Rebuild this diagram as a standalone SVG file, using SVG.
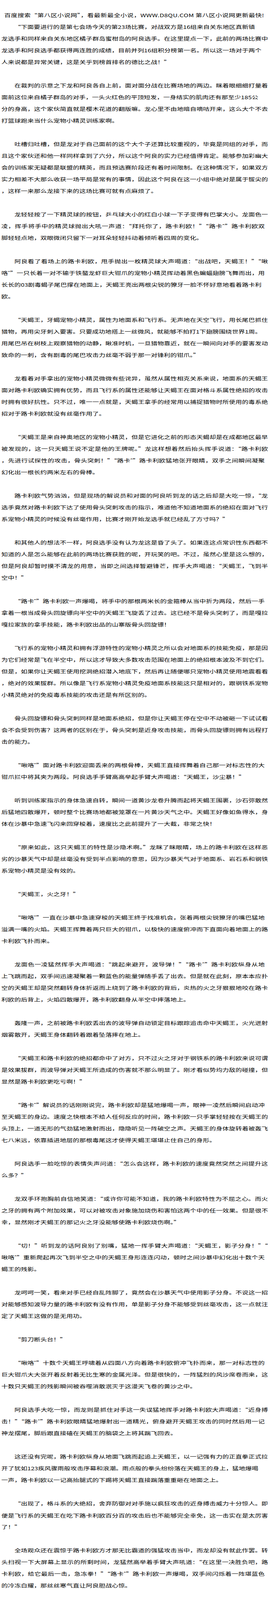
<svg xmlns="http://www.w3.org/2000/svg" width="700" height="4430" viewBox="0 0 700 4430">
<style>
text{font-family:"Noto Sans CJK SC","Noto Sans CJK TC",sans-serif;font-size:12px;fill:#000}
</style>
<rect width="700" height="4430" fill="#fff"/>
<g transform="scale(1.3889 1)">
<g id="header"><text x="7.9" y="44.5" textLength="479.5">百度搜索“第八区小说网”，看最新最全小说，WWW.D8QU.COM  第八区小说网更新最快!</text></g>
<g id="body">
<text x="26.57" y="74.5" textLength="444.1">“下面要进行的是第七会场今天的第23场比赛，对战双方是16组来自关东地区真新镇</text>
<text x="2.59" y="104.5" textLength="492.1">龙选手和同样来自关东地区橘子群岛蜜柑岛的阿良选手。在这里提点一下，此前的两场比赛中</text>
<text x="2.59" y="134.5" textLength="480.1">龙选手和阿良选手都获得两连胜的成绩，目前并列16组积分榜第一名。所以这一场对于两个</text>
<text x="2.59" y="164.5">人来说都是异常关键，这是关乎到榜首排名的德比之战！”</text>
<text x="26.57" y="224.5" textLength="468.1">在裁判的示意之下龙和阿良各自上前，面对面分战在比赛场地的两边。眯着眼细细打量着</text>
<text x="2.59" y="254.5" textLength="474.1">面前这位来自橘子群岛的对手，一头火红色的平顶短发，一身结实的肌肉还有那至少185公</text>
<text x="2.59" y="284.5" textLength="492.1">分的身高，这个家伙简直就是樱木花道的翻版嘛。龙心里不由地暗自嘀咕开来，这么大个不去</text>
<text x="2.59" y="314.5">打篮球跑来当什么宠物小精灵训练家啊。</text>
<text x="26.57" y="374.5" textLength="468.1">吐槽归吐槽，但是龙对于自己面前的这个大个子还算比较重视的，毕竟是同组的对手，而</text>
<text x="2.59" y="404.5" textLength="492.1">且这个家伙还和他一样同样拿到了六分，所以这个阿良的实力已经值得肯定。能够参加彩幽大</text>
<text x="2.59" y="434.5" textLength="492.1">会的训练家无疑都是联盟的精英，而且预选赛阶段还有着时间限制。在这种情况下，如果双方</text>
<text x="2.59" y="464.5" textLength="492.1">实力相差不大那么收获一场平局是常有的事情，因此这个阿良在这一小组中绝对是属于拔尖的</text>
<text x="2.59" y="494.5">，这样一来那么龙接下来的这场比赛可就有点麻烦了。</text>
<text x="26.57" y="554.5" textLength="468.1">龙轻轻按了一下精灵球的按钮，乒乓球大小的红白小球一下子变得有巴掌大小。龙面色一</text>
<text x="2.59" y="584.5" textLength="486.1">凌，挥手将手中的精灵球抛出大吼一声道：“拜托你了，路卡利欧！”“路卡ˆ”路卡利欧双</text>
<text x="2.59" y="614.5">脚轻轻点地，双眼微闭只留下一对耳朵轻轻抖动着倾听着四周的变化。</text>
<text x="26.57" y="674.5" textLength="468.1">阿良看了看场上的路卡利欧，甩手抛出一枚精灵球大声喝道：“出战吧，天蝎王！”“啾</text>
<text x="2.59" y="704.5" textLength="486.1">咯ˆ”一只长着一对不输于铁螯龙虾巨大钳爪的宠物小精灵挥动着黑色蝙蝠翅膀飞舞而出，用</text>
<text x="2.59" y="734.5" textLength="480.1">长长的03剧毒蝎子尾巴撑在地面上，天蝎王亮出两根尖锐的獠牙一脸不怀好意地看着路卡利</text>
<text x="2.59" y="764.5">欧。</text>
<text x="26.57" y="824.5" textLength="468.1">“天蝎王，牙蝎宠物小精灵，属性为地面系和飞行系。无声地在天空飞行，用长尾巴抓住</text>
<text x="2.59" y="854.5" textLength="480.1">猎物，再用尖牙刺入要害。只要成功地搭上一丝微风，就能够不拍打1下翅膀围绕世界1周。</text>
<text x="2.59" y="884.5" textLength="492.1">用尾巴吊在树枝上观察猎物的动静，瞅准时机，一旦猎物靠近，就在一瞬间向对手的要害发动</text>
<text x="2.59" y="914.5">致命的一刺，含有剧毒的尾巴攻击力丝毫不弱于那一对锋利的钳爪。”</text>
<text x="26.57" y="974.5" textLength="468.1">龙看着对手拿出的宠物小精灵微微有些诧异，虽然从属性相克关系来说，地面系的天蝎王</text>
<text x="2.59" y="1004.5" textLength="492.1">面对路卡利欧确实拥有优势，而且飞行系的属性还能够让天蝎王在面对格斗系属性绝招的攻击</text>
<text x="2.59" y="1034.5" textLength="492.1">时拥有很好抗性。只不过，唯一一点就是，天蝎王拿手的经常用以捕捉猎物时所使用的毒系绝</text>
<text x="2.59" y="1064.5">招对于路卡利欧就没有丝毫作用了。</text>
<text x="26.57" y="1124.5" textLength="468.1">“天蝎王是来自神奥地区的宠物小精灵，但是它进化之前的形态天蝎却是在成都地区最早</text>
<text x="2.59" y="1154.5" textLength="492.1">被发现的，这一只天蝎王说不定是他的王牌呢。”龙这样想着然后抬头挥手说道：“路卡利欧</text>
<text x="2.59" y="1184.5" textLength="486.1">，先进行试探性的攻击，骨头突刺！”“路卡ˆ”路卡利欧猛地张开眼睛，双手之间瞬间凝聚</text>
<text x="2.59" y="1214.5">幻化出一根长约两米左右的骨棒。</text>
<text x="26.57" y="1274.5" textLength="468.1">路卡利欧气势汹汹，但是现场的解说员和对面的阿良听到龙的话之后却是大吃一惊，“龙</text>
<text x="2.59" y="1304.5" textLength="492.1">选手竟然对路卡利欧下达了使用骨头突刺攻击的指示，难道他不知道地面系的绝招在面对飞行</text>
<text x="2.59" y="1334.5">系宠物小精灵的时候没有丝毫作用，比赛才刚开始龙选手就已经乱了方寸吗？”</text>
<text x="26.57" y="1394.5" textLength="468.1">和其他人的想法不一样，阿良选手没有认为龙这是昏了头了。如果连这点常识性东西都不</text>
<text x="2.59" y="1424.5" textLength="492.1">知道的人是怎么能够在此前的两场比赛获胜的呢，开玩笑的吧。不过，虽然心里是这么想的，</text>
<text x="2.59" y="1454.5" textLength="492.1">但是阿良却暂时摸不清龙的用意，当即之间选择暂避锋芒，挥手大声喝道：“天蝎王，飞到半</text>
<text x="2.59" y="1484.5">空中！”</text>
<text x="26.57" y="1544.5" textLength="462.1">“路卡ˆ”路卡利欧一声爆喝，将手中的那根两米长的金箍棒从当中折为两段，然后一手</text>
<text x="2.59" y="1574.5" textLength="492.1">拿着一根当成骨头回旋镖向半空中的天蝎王飞旋丢了过去。这已经不是骨头突刺了，而是嘎拉</text>
<text x="2.59" y="1604.5">嘎拉家族的拿手技能，路卡利欧出品的山寨版骨头回旋镖！</text>
<text x="26.57" y="1664.5" textLength="468.1">飞行系的宠物小精灵和拥有浮游特性的宠物小精灵之所以会对地面系的技能免疫，那是因</text>
<text x="2.59" y="1694.5" textLength="492.1">为它们经常是飞在半空中，所以这才导致大多数攻击范围在地面上的绝招根本波及不到它们。</text>
<text x="2.59" y="1724.5" textLength="492.1">但是，如果你让天蝎王使用挖洞绝招潜入地底下，然后再让随便哪只宠物小精灵使用地震看看</text>
<text x="2.59" y="1754.5" textLength="492.1">，绝对的效果拔群。所以像是飞行系宠物小精灵免疫地面系技能这只是相对的，跟钢铁系宠物</text>
<text x="2.59" y="1784.5">小精灵绝对的免疫毒系技能的攻击还是有所区别的。</text>
<text x="26.57" y="1844.5" textLength="468.1">骨头回旋镖和骨头突刺同样是地面系绝招，但是你让天蝎王停在空中不动被砸一下试试看</text>
<text x="2.59" y="1874.5" textLength="492.1">会不会受到伤害？这两者的区别在于，骨头突刺是近身攻击技能，而骨头回旋镖则拥有远程打</text>
<text x="2.59" y="1904.5">击的能力。</text>
<text x="26.57" y="1964.5" textLength="462.1">“啾咯ˆ”面对路卡利欧迎面丢来的两根骨棒，天蝎王直接挥舞着自己那一对标志性的大</text>
<text x="2.59" y="1994.5">钳爪拦中将其夹为两段。阿良选手手臂高高举起手臂大声喝道：“天蝎王，沙尘暴！”</text>
<text x="26.57" y="2054.5" textLength="468.1">听到训练家指示的身体急速自转，瞬间一道黄沙龙卷升腾而起将天蝎王围裹，沙石弥散然</text>
<text x="2.59" y="2084.5" textLength="492.1">后猛地四散爆开，顿时整个比赛场地都被笼罩在一片黄沙天气之中。天蝎王好像如鱼得水，身</text>
<text x="2.59" y="2114.5">体在沙暴中急速飞闪来回穿梭着，速度比之此前提升了一大截，非常之快！</text>
<text x="26.57" y="2174.5" textLength="468.1">“原来如此，这只天蝎王的特性是沙隐术啊。”龙眯了眯眼睛，场上的路卡利欧在这样恶</text>
<text x="2.59" y="2204.5" textLength="492.1">劣的沙暴天气中却是丝毫没有受到半点影响的意思，因为沙暴天气对于地面系、岩石系和钢铁</text>
<text x="2.59" y="2234.5">系宠物小精灵是没有效的。</text>
<text x="26.57" y="2294.5">“天蝎王，火之牙！”</text>
<text x="26.57" y="2354.5" textLength="462.1">“啾咯ˆ”一直在沙暴中急速穿梭的天蝎王终于找准机会，张着两根尖锐獠牙的嘴巴猛地</text>
<text x="2.59" y="2384.5" textLength="492.1">溢满一嘴的火焰。天蝎王挥舞着两只巨大的钳爪，以极快的速度俯冲而下直面向着地面上的路</text>
<text x="2.59" y="2414.5">卡利欧飞扑而来。</text>
<text x="26.57" y="2474.5" textLength="462.1">龙面色一凌猛然挥手大声喝道：“跳起来避开，波导弹！”“路卡ˆ”路卡利欧纵身从地</text>
<text x="2.59" y="2504.5" textLength="492.1">上飞跳而起，双手间迅速凝聚着一颗蓝色的能量弹随手丢了出去。但是就在此刻，原本本应扑</text>
<text x="2.59" y="2534.5" textLength="492.1">空的天蝎王却是突然翻转身体折返而上绕到了路卡利欧的背后，炎热的火之牙狠狠地咬在路卡</text>
<text x="2.59" y="2564.5">利欧的后背上，火焰四散爆开，路卡利欧翻身从半空中摔落地上。</text>
<text x="26.57" y="2624.5" textLength="468.1">轰隆一声，之前被路卡利欧丢出去的波导弹自动锁定目标跟踪追击命中天蝎王，火光迸射</text>
<text x="2.59" y="2654.5">烟雾散开，天蝎王身体翻转着跟着坠落摔在地上。</text>
<text x="26.57" y="2714.5" textLength="468.1">“天蝎王和路卡利欧的绝招都命中了对方，只不过火之牙对于钢铁系的路卡利欧来说可谓</text>
<text x="2.59" y="2744.5" textLength="492.1">是效果拔群，而波导弹对天蝎王所造成的伤害就不那么明显了。刚才看似势均力敌的碰撞，但</text>
<text x="2.59" y="2774.5">显然是路卡利欧更吃亏啊！”</text>
<text x="26.57" y="2834.5" textLength="462.1">“路卡ˆ”解说员的话刚刚说完，路卡利欧却是猛地爆喝一声，眼神一凌然后瞬间启动冲</text>
<text x="2.59" y="2864.5" textLength="492.1">至天蝎王的身边。速度之快根本不给人任何反应的时间，路卡利欧一只手掌轻轻按在天蝎王的</text>
<text x="2.59" y="2894.5" textLength="492.1">头顶上，一道无形的气劲猛地激射而出，隐隐听见一阵破空之声。天蝎王的身体旋转着被轰飞</text>
<text x="2.59" y="2924.5">七八米远，依靠插进地层的那根毒尾这才使得天蝎王堪堪止住自己的身形。</text>
<text x="26.57" y="2984.5" textLength="468.1">阿良选手一脸吃惊的表情失声问道：“怎么会这样，路卡利欧的速度竟然突然之间提升这</text>
<text x="2.59" y="3014.5">么多？”</text>
<text x="26.57" y="3074.5" textLength="468.1">龙双手环抱胸前自信地笑道：“或许你可能不知道，我的路卡利欧特性为不屈之心。而火</text>
<text x="2.59" y="3104.5" textLength="492.1">之牙的拥有两个附加效果，可以对被攻击对象施加烧伤和害怕这两个中的任一效果。但是很不</text>
<text x="2.59" y="3134.5">幸，显然刚才天蝎王的那记火之牙没能够使路卡利欧烧伤啊。”</text>
<text x="26.57" y="3194.5" textLength="468.1">“切！”听到龙的话阿良别了别嘴，猛地一挥手臂大声喝道：“天蝎王，影子分身！”“</text>
<text x="2.59" y="3224.5" textLength="486.1">啾咯ˆ”重新爬起再次飞到半空之中的天蝎王身形连连闪动，顿时之间沙暴中幻化出十数个天</text>
<text x="2.59" y="3254.5">蝎王的残影。</text>
<text x="26.57" y="3314.5" textLength="468.1">龙呵呵一笑，看来对手已经自乱阵脚了，竟然会在沙暴天气中使用影子分身。不说这一招</text>
<text x="2.59" y="3344.5" textLength="492.1">对能够感知波导力量的路卡利欧有没有作用，单是影子分身不能够受到丝毫攻击，这一点就注</text>
<text x="2.59" y="3374.5">定了天蝎王这做的是无用功。</text>
<text x="26.57" y="3434.5">“剪刀断头台！”</text>
<text x="26.57" y="3494.5" textLength="462.1">“啾咯ˆ”十数个天蝎王呼啸着从四面八方向着路卡利欧俯冲飞扑而来，那一对标志性的</text>
<text x="2.59" y="3524.5" textLength="492.1">巨大钳爪大大张开着反射着无比生寒的金属光泽。但是很快的，一阵猛烈的风沙席卷而来，这</text>
<text x="2.59" y="3554.5">十数只天蝎王的残影瞬间被吞噬消散泯灭于这漫天飞卷的黄沙之中。</text>
<text x="26.57" y="3614.5" textLength="468.1">阿良选手大吃一惊，而龙则是抓住对手这一失误猛地挥手对路卡利欧大声喝道：“近身搏</text>
<text x="2.59" y="3644.5" textLength="486.1">击！”“路卡ˆ”路卡利欧眼睛猛地爆射出一道精光，俯身避开天蝎王攻击的同时然后用一记</text>
<text x="2.59" y="3674.5">神龙摆尾，脚后跟直接磕在天蝎王的脑袋之上将其踹飞回去。</text>
<text x="26.57" y="3734.5" textLength="468.1">这还没有完呢，路卡利欧纵身从地面飞跳而起追上天蝎王，以一记强有力的正直拳正式拉</text>
<text x="2.59" y="3764.5" textLength="474.1">开了犹如123疾风骤雨般攻击序幕和浪潮。雨点般的拳头纷纷落在天蝎王的身上，猛地爆喝</text>
<text x="2.59" y="3794.5">一声，路卡利欧以一记高抬腿式的下踢将天蝎王直接踹落重重砸在地面之上。</text>
<text x="26.57" y="3854.5" textLength="468.1">“出现了，格斗系的大绝招，舍弃防御对对手施以疯狂攻击的近身搏击威力十分惊人。即</text>
<text x="2.59" y="3884.5" textLength="492.1">便是飞行系的天蝎王在吃下路卡利欧百分百的攻击后也不能够完全幸免，这一击实在是太厉害</text>
<text x="2.59" y="3914.5">了！”</text>
<text x="26.57" y="3974.5" textLength="468.1">全场观众还在震惊于路卡利欧方才那无比霸道的强猛攻击当中，而龙却没有就此作罢。转</text>
<text x="2.59" y="4004.5" textLength="492.1">头扫视一下大屏幕上显示的所剩时间，龙猛然高举着手臂大声吼道：“在这里一决胜负吧，路</text>
<text x="2.59" y="4034.5" textLength="486.1">卡利欧，给它最后一击，急冻拳！”“路卡ˆ”路卡利欧一声爆喝，双手间闪烁着一阵堪蓝色</text>
<text x="2.59" y="4064.5">的冷冻白耀，那丝丝寒气直让阿良胆战心惊。</text>
<text x="26.57" y="4124.5">情急之下，阿良失声大喊道：“不好，天蝎王，赶快飞起来逃走！”</text>
<text x="26.57" y="4184.5">“已经逃不了！”龙冷哼一声，“神速！”</text>
<text x="26.57" y="4244.5" textLength="468.1">一道残影飞速闪过，路卡利欧瞬间飞冲过二十多米的距离急速杀奔到天蝎王的面前，速度</text>
<text x="2.59" y="4274.5" textLength="492.1">之快直让路卡利欧的残影已经连成一线。这种情况下无论是天蝎王还是它的训练家，甚至连现</text>
<text x="2.59" y="4304.5">场的那六架摄像机都没有捕捉到路卡利欧在暴起那一刻的运行轨迹。</text>
<text x="26.57" y="4364.5">“路卡ˆ”路卡利欧爆喝一声，强力的急冻拳直</text>
</g>
<g id="footer"><text x="7.9" y="4394.5" textLength="479.5">百度搜索“第八区小说网”，看最新最全小说，WWW.D8QU.COM  第八区小说网更新最快!</text></g>
</g>
</svg>
